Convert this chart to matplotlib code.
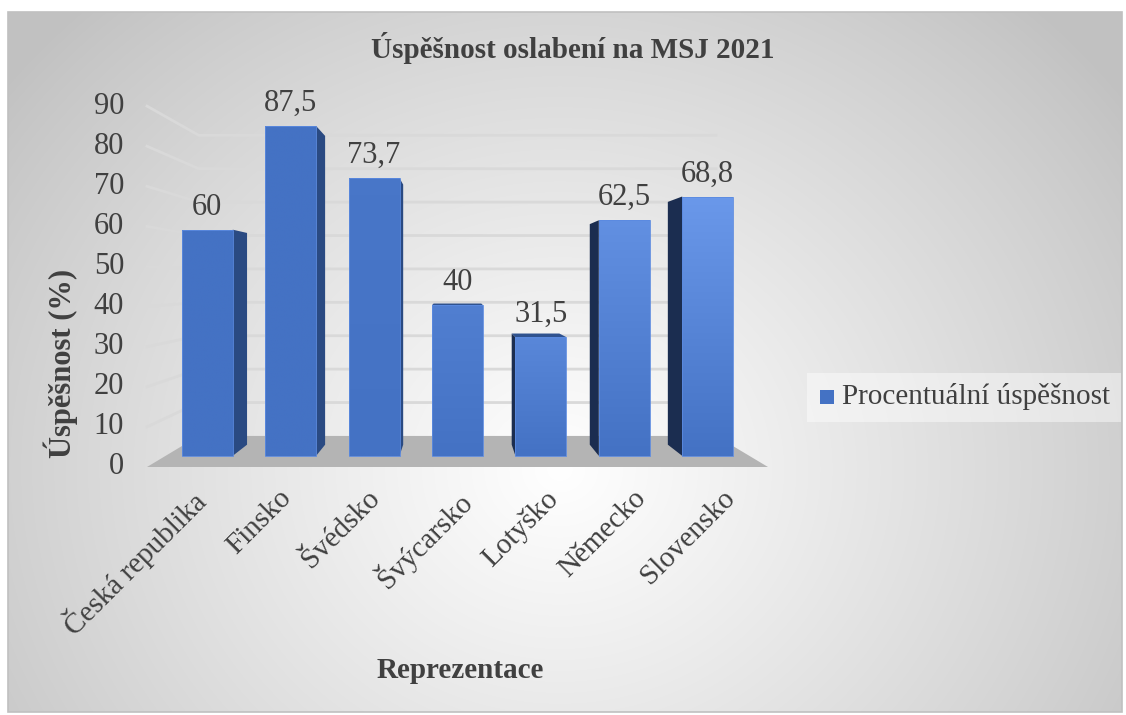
import numpy as np
import matplotlib
matplotlib.use('Agg')
import matplotlib.pyplot as plt
from matplotlib.patches import Polygon, Rectangle
from matplotlib.colors import to_rgb

plt.rcParams['font.family'] = ['Liberation Serif', 'DejaVu Serif']

# data
categories = ['Česká republika', 'Finsko', 'Švédsko', 'Švýcarsko', 'Lotyško', 'Německo', 'Slovensko']
values = [60, 87.5, 73.7, 40, 31.5, 62.5, 68.8]
labels = ['60', '87,5', '73,7', '40', '31,5', '62,5', '68,8']
yticks = list(range(0, 100, 10))
title = 'Úspěšnost oslabení na MSJ 2021'
series = 'Procentuální úspěšnost'

W, H = 1126, 715
fig = plt.figure(figsize=(W / 100, H / 100), dpi=100)
ax = fig.add_axes([0, 0, 1, 1])
ax.set_xlim(0, W)
ax.set_ylim(H, 0)
ax.axis('off')

txt = '#404040'
fs = 21

# background radial gradient inside chart frame
gx, gy = np.meshgrid(np.linspace(8, 1122, 400), np.linspace(12, 712, 260))
d = np.hypot(gx - 560, (gy - 470) / 0.9)
g = np.clip(1 - d / 700, 0, 1)
shade = 0.76 + 0.24 * g ** 0.9
ax.imshow(np.dstack([shade, shade, shade]), extent=(8, 1122, 712, 12),
          aspect='auto', zorder=0, interpolation='bilinear')
ax.add_patch(Rectangle((8, 12), 1114, 700, fill=False, ec='#c0c0c0', lw=1.2, zorder=1))

# simple perspective: front plane -> shrink toward vanishing point
vpx, vpy = 457, 281
fx0, fx1 = 147, 768
y0, ppu = 467, 4.01
s_back = 0.833
s_f, s_b = 0.94, 0.88
n = len(categories)
slot = (fx1 - fx0) / n
bw = 0.61 * slot


def yf(v):
    return y0 - ppu * v


def proj(x, y, s):
    return (vpx + (x - vpx) * s, vpy + (y - vpy) * s)


# floor
ax.add_patch(Polygon([proj(fx0, y0, 1), proj(fx1, y0, 1), proj(fx1, y0, s_back), proj(fx0, y0, s_back)],
                     closed=True, fc='#b4b4b4', ec='none', zorder=2))

# gridlines (side wall + back wall)
for v in yticks:
    if v > 0:
        a = proj(fx0, yf(v), 1)
        b = proj(fx0, yf(v), s_back)
        c = proj(fx1, yf(v), s_back)
        ax.plot([a[0], b[0], c[0]], [a[1], b[1], c[1]], color='#d9d9d9', lw=2, zorder=2,
                solid_joinstyle='miter')
    ax.text(124, yf(v), str(v), ha='right', va='center', fontsize=fs + 1, color=txt, zorder=5)

base = np.array(to_rgb('#4472c4'))
light = np.array(to_rgb('#6a98ea'))

# bars
for i, v in enumerate(values):
    cx = fx0 + slot * (i + 0.5)
    xl, xr = cx - bw / 2, cx + bw / 2
    top = yf(v)
    if proj(xr, y0, s_f)[0] < vpx - 2:
        side = [proj(xr, y0, s_f), proj(xr, top, s_f), proj(xr, top, s_b), proj(xr, y0, s_b)]
        ax.add_patch(Polygon(side, closed=True, fc='#2a4a82', ec='none', zorder=3))
    elif proj(xl, y0, s_f)[0] > vpx + 2:
        side = [proj(xl, y0, s_f), proj(xl, top, s_f), proj(xl, top, s_b), proj(xl, y0, s_b)]
        ax.add_patch(Polygon(side, closed=True, fc='#1b2d50', ec='none', zorder=3))
    if top > vpy:
        tp = [proj(xl, top, s_f), proj(xr, top, s_f), proj(xr, top, s_b), proj(xl, top, s_b)]
        ax.add_patch(Polygon(tp, closed=True, fc='#2f528f', ec='none', zorder=3))
    front = [proj(xl, y0, s_f), proj(xr, y0, s_f), proj(xr, top, s_f), proj(xl, top, s_f)]
    fp = Polygon(front, closed=True, fc='none', ec='#5b8ae0', lw=0.6, zorder=4.1)
    ax.add_patch(fp)
    # vertical gradient, stronger toward the right of the chart
    k = max(0.0, (i - 1.5) / (n - 2.5))
    t = np.linspace(1, 0, 50)[:, None] * k
    col = base[None, :] * (1 - t) + light[None, :] * t
    (ax0, ay0), (ax1, ay1) = front[0], front[2]
    im = ax.imshow(col[:, None, :], extent=(ax0, ax1, ay0, ay1), aspect='auto',
                   zorder=4, interpolation='bilinear')
    im.set_clip_path(fp)
    lx, ly = proj(cx, top, s_f)
    ax.text(lx, ly - 8, labels[i], ha='center', va='bottom', fontsize=fs + 1, color=txt, zorder=5)
    # category label
    ax.text(cx - 2, 485, categories[i], rotation=45, rotation_mode='anchor',
            ha='right', va='top', fontsize=fs, color=txt, zorder=5)

ax.set_xlim(0, W)
ax.set_ylim(H, 0)

# titles
ax.text(573, 48, title, ha='center', va='center', fontsize=21, fontweight='bold', color=txt)
ax.text(61, 363, 'Úspěšnost (%)', rotation=90, ha='center', va='center',
        fontsize=22, fontweight='bold', color=txt)
ax.text(460, 670, 'Reprezentace', ha='center', va='center', fontsize=21,
        fontweight='bold', color=txt)

# legend
ax.add_patch(Rectangle((807, 373), 314, 49, fc='white', alpha=0.45, ec='none', zorder=3))
ax.add_patch(Rectangle((820, 390), 14, 14, fc='#4472c4', ec='none', zorder=4))
ax.text(842, 397, series, ha='left', va='center', fontsize=fs, color=txt, zorder=5)

fig.savefig('out.png', dpi=100)
